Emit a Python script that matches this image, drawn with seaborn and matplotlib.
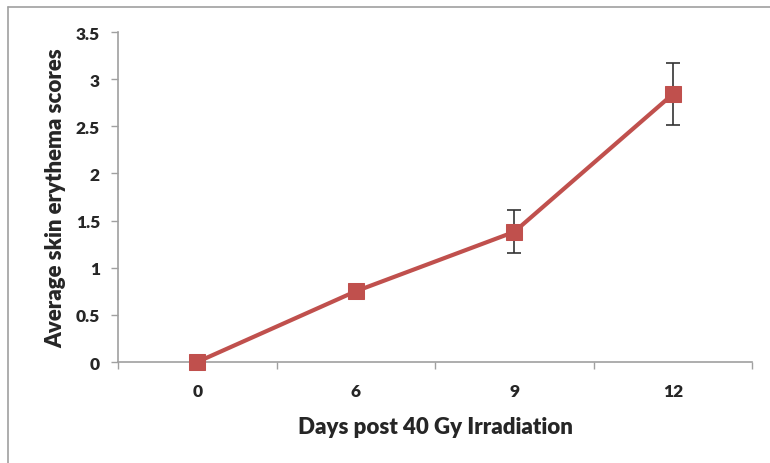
import matplotlib
matplotlib.use("Agg")
import matplotlib.pyplot as plt
import seaborn as sns
import pandas as pd
import numpy as np
from matplotlib.lines import Line2D

days = ["0", "6", "9", "12"]
scores = [0.0, 0.75, 1.38, 2.84]
err_low = [0.0, 0.0, 0.22, 0.33]
err_high = [0.0, 0.0, 0.23, 0.33]

sns.set_theme(style="white")
plt.rcParams['font.family'] = ['Lato', 'DejaVu Sans']

df = pd.DataFrame({"pos": np.arange(len(days)), "score": scores, "day": days})

fig = plt.figure(figsize=(7.7, 4.64), dpi=100)
ax = fig.add_axes([118/770, 1-363/464, (752-118)/770, (363-33)/464])

red = "#C0504D"
ax.errorbar(df["pos"], df["score"], yerr=[err_low, err_high], fmt="none",
            ecolor="#333333", elinewidth=1.2, capsize=5, capthick=1.2, zorder=2)
sns.lineplot(data=df, x="pos", y="score", ax=ax, color=red, linewidth=3,
             marker="s", markersize=11, markeredgecolor=red, zorder=3)
for ln in ax.lines:
    ln.set_clip_on(False)

ax.set_xlim(-0.5, 3.5)
ax.set_ylim(0, 3.5)
ax.set_yticks(np.arange(0, 3.51, 0.5))
ax.set_yticklabels(["0", "0.5", "1", "1.5", "2", "2.5", "3", "3.5"],
                   fontsize=12.5, fontweight="heavy")
ax.set_xticks(np.arange(-0.5, 3.6, 1.0), minor=False)
ax.set_xticklabels([])
ax.set_xticks(df["pos"], minor=True)
ax.set_xticklabels(days, minor=True, fontsize=12.5, fontweight="heavy")
ax.tick_params(axis="x", which="major", length=5, width=1, color="#A0A0A0", direction="out", bottom=True)
ax.tick_params(axis="x", which="minor", length=0, pad=15)
ax.tick_params(axis="y", length=5, width=1, color="#A0A0A0", direction="out", left=True, pad=8)

for s in ["top", "right"]:
    ax.spines[s].set_visible(False)
for s in ["left", "bottom"]:
    ax.spines[s].set_color("#A0A0A0")
    ax.spines[s].set_linewidth(1.2)

ax.set_xlabel("Days post 40 Gy Irradiation", fontsize=16, fontweight="heavy", labelpad=12)
ax.set_ylabel("Average skin erythema scores", fontsize=16, fontweight="heavy", labelpad=7)

# outer frame: only top and left edges are visible
fig.lines.append(Line2D([8/770, 1.0], [1-8/464, 1-8/464], transform=fig.transFigure,
                        color="#A0A0A0", linewidth=1.2))
fig.lines.append(Line2D([8/770, 8/770], [0.0, 1-8/464], transform=fig.transFigure,
                        color="#A0A0A0", linewidth=1.2))

fig.savefig("out.png", dpi=100)
